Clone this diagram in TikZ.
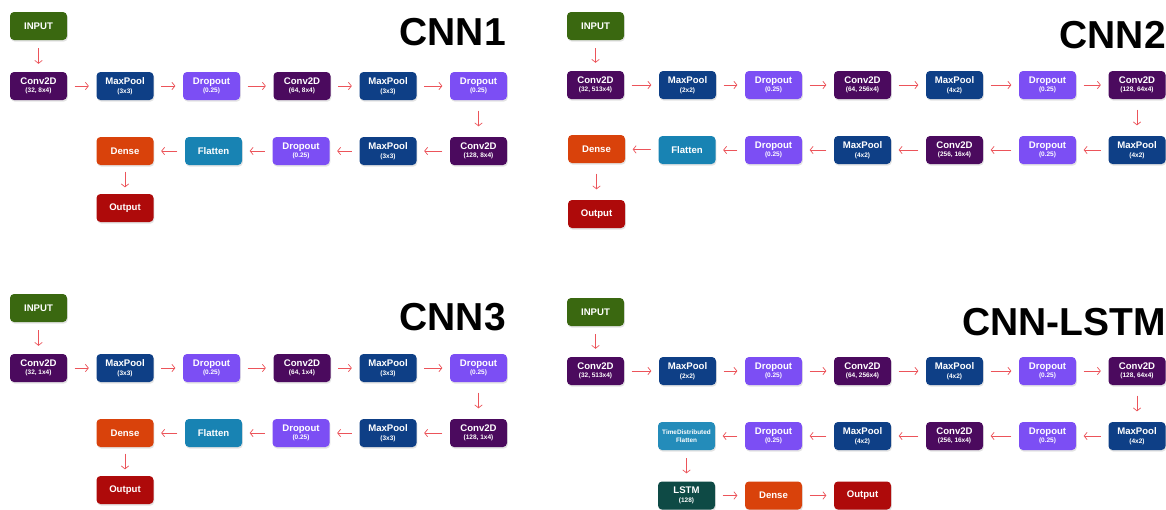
\documentclass[tikz,border=0pt]{standalone}
\usepackage{fontspec}
\setmainfont{Liberation Sans}
\usetikzlibrary{arrows.meta,shadows}
\definecolor{cgreen}{RGB}{58,104,16}
\definecolor{cconv}{RGB}{75,10,94}
\definecolor{cpool}{RGB}{14,63,134}
\definecolor{cdrop}{RGB}{124,78,244}
\definecolor{cflat}{RGB}{24,131,179}
\definecolor{ctd}{RGB}{36,140,186}
\definecolor{cdense}{RGB}{217,66,11}
\definecolor{cout}{RGB}{174,10,10}
\definecolor{clstm}{RGB}{14,74,69}
\definecolor{carrow}{RGB}{236,84,90}
\newcommand\twoline[2]{#1\\{\fontsize{6.5}{8.5}\selectfont #2}}
\tikzset{
  box/.style={rounded corners=4pt, minimum width=57pt, minimum height=28pt, inner sep=0pt,
    text=white, align=center, font=\fontsize{9.6}{8.5}\selectfont\bfseries,
    drop shadow={shadow xshift=0.8pt, shadow yshift=-1.6pt, opacity=0.22}},
  smalltext/.style={font=\fontsize{6.4}{8}\selectfont\bfseries},
  title/.style={anchor=base east, font=\fontsize{39}{39}\selectfont\bfseries, text=black, inner sep=0pt},
  arr/.style={draw=carrow, line width=0.7pt, -{Straight Barb[length=3pt,width=7.5pt]}, shorten <=7.5pt, shorten >=7.5pt},
  sh/.style={shorten <=#1, shorten >=#1}
}
\begin{document}
\begin{tikzpicture}[x=1pt,y=-1pt]
\useasboundingbox (0,0) rectangle (1166,509);
\fill[white] (0,0) rectangle (1166,509);

% ---------------- CNN1 ----------------
\node[title] (t1) at (506,45) {CNN1};
\node[box, fill=cgreen] (a0) at (38.5,26) {INPUT};
\node[box, fill=cconv] (a1) at (38.5,86) {\twoline{Conv2D}{(32, 8x4)}};
\node[box, fill=cpool] (a2) at (125,86) {\twoline{MaxPool}{(3x3)}};
\node[box, fill=cdrop] (a3) at (211.5,86) {\twoline{Dropout}{(0.25)}};
\node[box, fill=cconv] (a4) at (302,86) {\twoline{Conv2D}{(64, 8x4)}};
\node[box, fill=cpool] (a5) at (388,86) {\twoline{MaxPool}{(3x3)}};
\node[box, fill=cdrop] (a6) at (478.5,86) {\twoline{Dropout}{(0.25)}};
\node[box, fill=cconv] (a7) at (478.5,151) {\twoline{Conv2D}{(128, 8x4)}};
\node[box, fill=cpool] (a8) at (388,151) {\twoline{MaxPool}{(3x3)}};
\node[box, fill=cdrop] (a9) at (301,151) {\twoline{Dropout}{(0.25)}};
\node[box, fill=cflat] (a10) at (213.5,151) {Flatten};
\node[box, fill=cdense] (a11) at (125,151) {Dense};
\node[box, fill=cout] (a12) at (125,208) {Output};
\draw[arr, sh=8pt] (a0) -- (a1);
\draw[arr] (a1) -- (a2);
\draw[arr] (a2) -- (a3);
\draw[arr] (a3) -- (a4);
\draw[arr] (a4) -- (a5);
\draw[arr] (a5) -- (a6);
\draw[arr, sh=10.5pt] (a6) -- (a7);
\draw[arr] (a7) -- (a8);
\draw[arr] (a8) -- (a9);
\draw[arr] (a9) -- (a10);
\draw[arr] (a10) -- (a11);
\draw[arr, sh=6.5pt] (a11) -- (a12);

% ---------------- CNN2 ----------------
\node[title] (t2) at (1166,48) {CNN2};
\node[box, fill=cgreen] (b0) at (595.5,26) {INPUT};
\node[box, fill=cconv] (b1) at (595.5,85) {\twoline{Conv2D}{(32, 513x4)}};
\node[box, fill=cpool] (b2) at (687.5,85) {\twoline{MaxPool}{(2x2)}};
\node[box, fill=cdrop] (b3) at (773.5,85) {\twoline{Dropout}{(0.25)}};
\node[box, fill=cconv] (b4) at (862.5,85) {\twoline{Conv2D}{(64, 256x4)}};
\node[box, fill=cpool] (b5) at (954.5,85) {\twoline{MaxPool}{(4x2)}};
\node[box, fill=cdrop] (b6) at (1047.5,85) {\twoline{Dropout}{(0.25)}};
\node[box, fill=cconv] (b7) at (1137,85) {\twoline{Conv2D}{(128, 64x4)}};
\node[box, fill=cpool] (b8) at (1137,150) {\twoline{MaxPool}{(4x2)}};
\node[box, fill=cdrop] (b9) at (1047.5,150) {\twoline{Dropout}{(0.25)}};
\node[box, fill=cconv] (b10) at (954.5,150) {\twoline{Conv2D}{(256, 16x4)}};
\node[box, fill=cpool] (b11) at (862.5,150) {\twoline{MaxPool}{(4x2)}};
\node[box, fill=cdrop] (b12) at (773.5,150) {\twoline{Dropout}{(0.25)}};
\node[box, fill=cflat] (b13) at (687,150) {Flatten};
\node[box, fill=cdense] (b14) at (596.5,149) {Dense};
\node[box, fill=cout] (b15) at (596.5,214) {Output};
\draw[arr, sh=8pt] (b0) -- (b1);
\draw[arr] (b1) -- (b2);
\draw[arr] (b2) -- (b3);
\draw[arr] (b3) -- (b4);
\draw[arr] (b4) -- (b5);
\draw[arr] (b5) -- (b6);
\draw[arr] (b6) -- (b7);
\draw[arr, sh=10.5pt] (b7) -- (b8);
\draw[arr] (b8) -- (b9);
\draw[arr] (b9) -- (b10);
\draw[arr] (b10) -- (b11);
\draw[arr] (b11) -- (b12);
\draw[arr] (b12) -- (b13);
\draw[arr] (b13) -- (b14);
\draw[arr, sh=10.5pt] (b14) -- (b15);

% ---------------- CNN3 ----------------
\node[title] (t3) at (506,330) {CNN3};
\node[box, fill=cgreen] (c0) at (38.5,308) {INPUT};
\node[box, fill=cconv] (c1) at (38.5,368) {\twoline{Conv2D}{(32, 1x4)}};
\node[box, fill=cpool] (c2) at (125,368) {\twoline{MaxPool}{(3x3)}};
\node[box, fill=cdrop] (c3) at (211.5,368) {\twoline{Dropout}{(0.25)}};
\node[box, fill=cconv] (c4) at (302,368) {\twoline{Conv2D}{(64, 1x4)}};
\node[box, fill=cpool] (c5) at (388,368) {\twoline{MaxPool}{(3x3)}};
\node[box, fill=cdrop] (c6) at (478.5,368) {\twoline{Dropout}{(0.25)}};
\node[box, fill=cconv] (c7) at (478.5,433) {\twoline{Conv2D}{(128, 1x4)}};
\node[box, fill=cpool] (c8) at (388,433) {\twoline{MaxPool}{(3x3)}};
\node[box, fill=cdrop] (c9) at (301,433) {\twoline{Dropout}{(0.25)}};
\node[box, fill=cflat] (c10) at (213.5,433) {Flatten};
\node[box, fill=cdense] (c11) at (125,433) {Dense};
\node[box, fill=cout] (c12) at (125,490) {Output};
\draw[arr, sh=8pt] (c0) -- (c1);
\draw[arr] (c1) -- (c2);
\draw[arr] (c2) -- (c3);
\draw[arr] (c3) -- (c4);
\draw[arr] (c4) -- (c5);
\draw[arr] (c5) -- (c6);
\draw[arr, sh=10.5pt] (c6) -- (c7);
\draw[arr] (c7) -- (c8);
\draw[arr] (c8) -- (c9);
\draw[arr] (c9) -- (c10);
\draw[arr] (c10) -- (c11);
\draw[arr, sh=6.5pt] (c11) -- (c12);

% ---------------- CNN-LSTM ----------------
\node[title] (t4) at (1166,335) {CNN-LSTM};
\node[box, fill=cgreen] (d0) at (595.5,312) {INPUT};
\node[box, fill=cconv] (d1) at (595.5,371) {\twoline{Conv2D}{(32, 513x4)}};
\node[box, fill=cpool] (d2) at (687.5,371) {\twoline{MaxPool}{(2x2)}};
\node[box, fill=cdrop] (d3) at (773.5,371) {\twoline{Dropout}{(0.25)}};
\node[box, fill=cconv] (d4) at (862.5,371) {\twoline{Conv2D}{(64, 256x4)}};
\node[box, fill=cpool] (d5) at (954.5,371) {\twoline{MaxPool}{(4x2)}};
\node[box, fill=cdrop] (d6) at (1047.5,371) {\twoline{Dropout}{(0.25)}};
\node[box, fill=cconv] (d7) at (1137,371) {\twoline{Conv2D}{(128, 64x4)}};
\node[box, fill=cpool] (d8) at (1137,436) {\twoline{MaxPool}{(4x2)}};
\node[box, fill=cdrop] (d9) at (1047.5,436) {\twoline{Dropout}{(0.25)}};
\node[box, fill=cconv] (d10) at (954.5,436) {\twoline{Conv2D}{(256, 16x4)}};
\node[box, fill=cpool] (d11) at (862.5,436) {\twoline{MaxPool}{(4x2)}};
\node[box, fill=cdrop] (d12) at (773.5,436) {\twoline{Dropout}{(0.25)}};
\node[box, fill=ctd, smalltext] (d13) at (686.5,436) {TimeDistributed\\Flatten};
\node[box, fill=clstm] (d14) at (686.5,495.5) {\twoline{LSTM}{(128)}};
\node[box, fill=cdense] (d15) at (773.5,495.5) {Dense};
\node[box, fill=cout] (d16) at (862.5,495.5) {Output};
\draw[arr, sh=8pt] (d0) -- (d1);
\draw[arr] (d1) -- (d2);
\draw[arr] (d2) -- (d3);
\draw[arr] (d3) -- (d4);
\draw[arr] (d4) -- (d5);
\draw[arr] (d5) -- (d6);
\draw[arr] (d6) -- (d7);
\draw[arr, sh=10.5pt] (d7) -- (d8);
\draw[arr] (d8) -- (d9);
\draw[arr] (d9) -- (d10);
\draw[arr] (d10) -- (d11);
\draw[arr] (d11) -- (d12);
\draw[arr] (d12) -- (d13);
\draw[arr, sh=8pt] (d13) -- (d14);
\draw[arr] (d14) -- (d15);
\draw[arr] (d15) -- (d16);
\end{tikzpicture}
\end{document}
